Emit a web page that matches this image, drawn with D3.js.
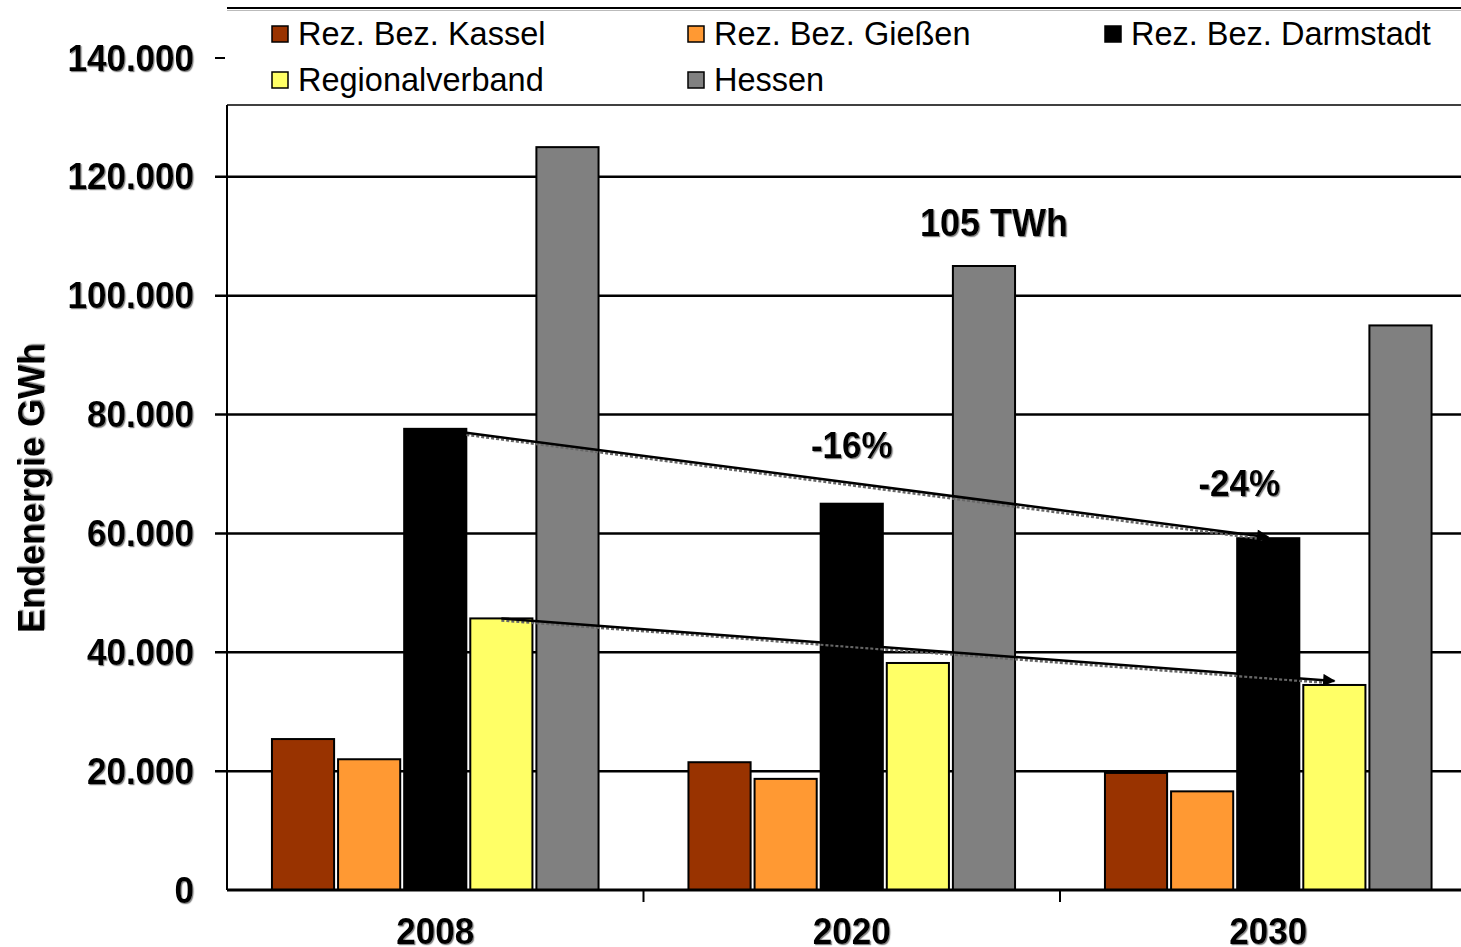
<!DOCTYPE html>
<html>
<head>
<meta charset="utf-8">
<script src="https://cdn.jsdelivr.net/npm/d3@7"></script>
<style>
  html, body { margin: 0; padding: 0; background: #fff; }
  svg { display: block; font-family: "Liberation Sans", Arial, sans-serif; }
  .tick-label { font-weight: bold; font-size: 35px; fill: #000; }
  .legend-label { font-size: 32.5px; fill: #000; }
  .note { font-weight: bold; font-size: 35px; fill: #000; }
</style>
</head>
<body>
<div id="chart"></div>
<script>
// data
var years = ["2008", "2020", "2030"];
var regions = ["Rez. Bez. Kassel", "Rez. Bez. Gießen", "Rez. Bez. Darmstadt", "Regionalverband", "Hessen"];
var colors = ["#993300", "#ff9933", "#000000", "#ffff66", "#808080"];
var kassel = [25400, 21500, 19700];
var giessen = [22000, 18700, 16600];
var darmstadt = [77600, 65000, 59200];
var regionalverband = [45700, 38200, 34500];
var hessen = [125000, 105000, 95000];
var yTicks = [0, 20000, 40000, 60000, 80000, 100000, 120000, 140000];
var yTitle = "Endenergie GWh";

var series = [kassel, giessen, darmstadt, regionalverband, hessen];

var width = 1461, height = 947;
var plot = { left: 227, right: 1476.5, top: 105, bottom: 890, yTop: 58 };
var stretch = 1.07; // bold labels are a bit taller than wide in the original

var svg = d3.select("#chart").append("svg")
    .attr("width", width)
    .attr("height", height);

var defs = svg.append("defs");
defs.append("filter")
    .attr("id", "shadow")
    .attr("x", "-5%").attr("y", "-10%")
    .attr("width", "115%").attr("height", "130%")
    .append("feDropShadow")
    .attr("dx", 1.2).attr("dy", 1.2)
    .attr("stdDeviation", 0.6)
    .attr("flood-color", "#666")
    .attr("flood-opacity", 0.8);

var x0 = d3.scaleBand()
    .domain(years)
    .range([plot.left, plot.right]);
var x1 = d3.scaleBand()
    .domain(regions)
    .range([0, x0.bandwidth()])
    .paddingInner(0.06)
    .paddingOuter(0.68);
var y = d3.scaleLinear()
    .domain([0, 140000])
    .range([plot.bottom, plot.yTop]);
var color = d3.scaleOrdinal().domain(regions).range(colors);

var fmt = function (v) {
    return v === 0 ? "0" : d3.format(",")(v).replace(/,/g, ".");
};

// legend frame
svg.append("line")
    .attr("x1", plot.left).attr("x2", width)
    .attr("y1", 8).attr("y2", 8)
    .attr("stroke", "#000").attr("stroke-width", 2);
svg.append("line")
    .attr("x1", plot.left).attr("x2", width)
    .attr("y1", 10.5).attr("y2", 10.5)
    .attr("stroke", "#bbb").attr("stroke-width", 1);
svg.append("line")
    .attr("x1", plot.left).attr("x2", width)
    .attr("y1", plot.top).attr("y2", plot.top)
    .attr("stroke", "#000").attr("stroke-width", 1.5);

// gridlines
var gridTicks = yTicks.filter(function (t) { return t > 0 && y(t) > plot.top; });
svg.append("g")
    .selectAll("line")
    .data(gridTicks)
    .join("line")
    .attr("x1", plot.left - 12).attr("x2", width)
    .attr("y1", function (d) { return y(d); })
    .attr("y2", function (d) { return y(d); })
    .attr("stroke", "#000").attr("stroke-width", 2.5);

// top tick (above plot area)
svg.append("line")
    .attr("x1", plot.left - 12).attr("x2", plot.left - 2)
    .attr("y1", y(140000)).attr("y2", y(140000))
    .attr("stroke", "#000").attr("stroke-width", 2);

// y tick labels
svg.append("g")
    .attr("filter", "url(#shadow)")
    .selectAll("text")
    .data(yTicks)
    .join("text")
    .attr("class", "tick-label")
    .attr("transform", function (d) {
        return "translate(194," + (y(d) + 12.5) + ") scale(1," + stretch + ")";
    })
    .attr("text-anchor", "end")
    .text(fmt);

// y axis title
svg.append("text")
    .attr("class", "tick-label")
    .attr("filter", "url(#shadow)")
    .attr("transform", "translate(44,488) rotate(-90)")
    .attr("text-anchor", "middle")
    .style("font-size", "36px")
    .text(yTitle);

// bars
var groups = svg.append("g")
    .selectAll("g")
    .data(years)
    .join("g")
    .attr("transform", function (d) { return "translate(" + x0(d) + ",0)"; });

groups.selectAll("rect")
    .data(function (yr, i) {
        return regions.map(function (r, j) { return { region: r, value: series[j][i] }; });
    })
    .join("rect")
    .attr("x", function (d) { return x1(d.region); })
    .attr("y", function (d) { return y(d.value); })
    .attr("width", x1.bandwidth())
    .attr("height", function (d) { return plot.bottom - y(d.value); })
    .attr("fill", function (d) { return color(d.region); })
    .attr("stroke", "#000")
    .attr("stroke-width", 2);

// y axis line
svg.append("line")
    .attr("x1", plot.left).attr("x2", plot.left)
    .attr("y1", plot.top).attr("y2", plot.bottom)
    .attr("stroke", "#000").attr("stroke-width", 2);

// x axis
svg.append("line")
    .attr("x1", plot.left).attr("x2", width)
    .attr("y1", plot.bottom).attr("y2", plot.bottom)
    .attr("stroke", "#000").attr("stroke-width", 3);
svg.append("g")
    .selectAll("line")
    .data(years.slice(1))
    .join("line")
    .attr("x1", function (d) { return x0(d); })
    .attr("x2", function (d) { return x0(d); })
    .attr("y1", plot.bottom).attr("y2", plot.bottom + 12)
    .attr("stroke", "#000").attr("stroke-width", 2);
svg.append("g")
    .attr("filter", "url(#shadow)")
    .selectAll("text")
    .data(years)
    .join("text")
    .attr("class", "tick-label")
    .attr("transform", function (d) {
        return "translate(" + (x0(d) + x0.bandwidth() / 2) + ",944) scale(1," + stretch + ")";
    })
    .attr("text-anchor", "middle")
    .text(function (d) { return d; });

// arrows
defs.append("marker")
    .attr("id", "arrow")
    .attr("viewBox", "0 0 10 10")
    .attr("refX", 9).attr("refY", 5)
    .attr("markerWidth", 6).attr("markerHeight", 5)
    .attr("markerUnits", "strokeWidth")
    .attr("orient", "auto")
    .append("path")
    .attr("d", "M0,0 L10,5 L0,10 Z")
    .attr("fill", "#000");

var iD = regions.indexOf("Rez. Bez. Darmstadt");
var iR = regions.indexOf("Regionalverband");
var arrows = [
    {
        x1: x0("2008") + x1(regions[iD]) + x1.bandwidth(), y1: y(darmstadt[0]) + 4,
        x2: x0("2030") + x1(regions[iD]) + x1.bandwidth() / 2, y2: y(darmstadt[2]) - 1
    },
    {
        x1: x0("2008") + x1(regions[iR]) + x1.bandwidth() / 2, y1: y(regionalverband[0]),
        x2: x0("2030") + x1(regions[iR]) + x1.bandwidth() / 2, y2: y(regionalverband[2]) - 4
    }
];
var ag = svg.append("g");
ag.selectAll("line.shadow")
    .data(arrows)
    .join("line")
    .attr("class", "shadow")
    .attr("x1", function (d) { return d.x1; })
    .attr("y1", function (d) { return d.y1 + 2; })
    .attr("x2", function (d) { return d.x2 - 6; })
    .attr("y2", function (d) { return d.y2 + 2; })
    .attr("stroke", "#666").attr("stroke-width", 2.5)
    .attr("stroke-dasharray", "3,2");
ag.selectAll("line.main")
    .data(arrows)
    .join("line")
    .attr("class", "main")
    .attr("x1", function (d) { return d.x1; })
    .attr("y1", function (d) { return d.y1; })
    .attr("x2", function (d) { return d.x2; })
    .attr("y2", function (d) { return d.y2; })
    .attr("stroke", "#000").attr("stroke-width", 2.5)
    .attr("marker-end", "url(#arrow)");

// annotations
var notes = [
    { text: "105 TWh", size: 36, x: x0("2020") + x1(regions[4]) + x1.bandwidth() / 2 + 10, y: y(hessen[1]) - 30 },
    { text: "-16%", size: 35, x: x0("2020") + x1(regions[iD]) + x1.bandwidth() / 2, y: y(darmstadt[1]) - 46 },
    { text: "-24%", size: 35, x: x0("2030") + x1(regions[iD]) + x1.bandwidth() / 2 - 29, y: y(darmstadt[2]) - 42 }
];
svg.append("g")
    .attr("filter", "url(#shadow)")
    .selectAll("text")
    .data(notes)
    .join("text")
    .attr("class", "note")
    .style("font-size", function (d) { return d.size + "px"; })
    .attr("transform", function (d) {
        return "translate(" + d.x + "," + d.y + ") scale(1," + stretch + ")";
    })
    .attr("text-anchor", "middle")
    .text(function (d) { return d.text; });

// legend
var legendCols = [272, 688, 1105];
var legendRows = [34, 80];
var legend = svg.append("g")
    .selectAll("g")
    .data(regions)
    .join("g")
    .attr("transform", function (d, i) {
        return "translate(" + legendCols[i % 3] + "," + legendRows[Math.floor(i / 3)] + ")";
    });
legend.append("rect")
    .attr("x", 0).attr("y", -8)
    .attr("width", 16).attr("height", 16)
    .attr("fill", function (d) { return color(d); })
    .attr("stroke", "#000").attr("stroke-width", 1.5);
legend.append("text")
    .attr("class", "legend-label")
    .attr("x", 26)
    .attr("dy", "0.35em")
    .text(function (d) { return d; });
</script>
</body>
</html>
